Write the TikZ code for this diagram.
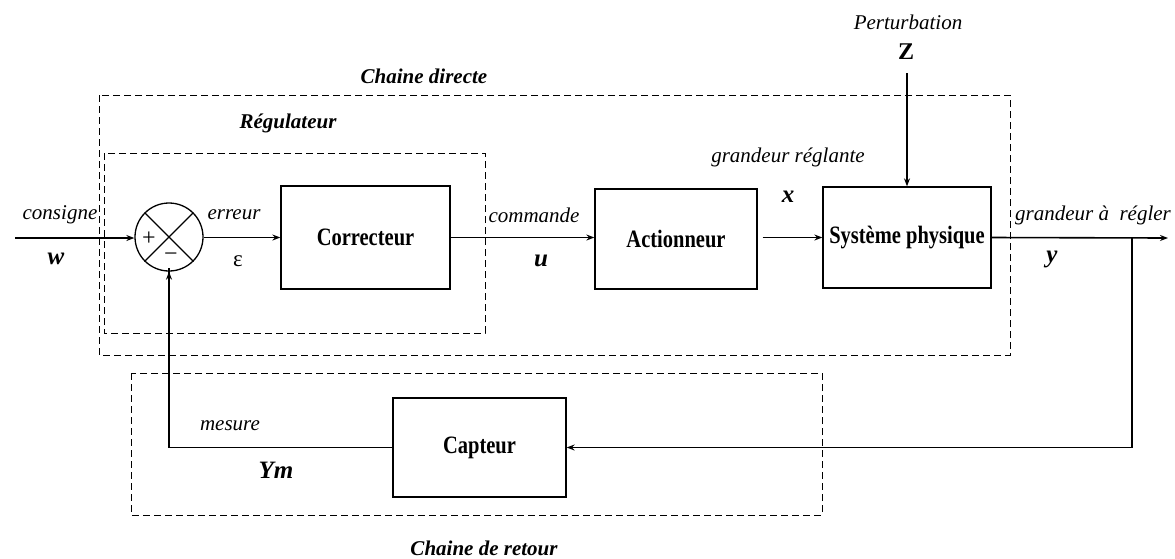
\documentclass[tikz,border=0pt]{standalone}
\usepackage{fontspec}
\setmainfont{Liberation Serif}[Ligatures=TeX]
\newfontfamily\diagfont{Liberation Serif}[Ligatures=TeX]
\newfontfamily\blockfont{Liberation Serif}[Ligatures=TeX,FakeStretch=0.82]
\usetikzlibrary{arrows.meta}
\begin{document}
\begin{tikzpicture}[x=1pt,y=-1pt,
  font=\diagfont,
  blockbox/.style={draw,line width=1.3pt,minimum width=#1,inner sep=0pt,
    font=\blockfont\fontsize{25}{27}\selectfont\bfseries},
  groupbox/.style={draw,line width=1pt,dash pattern=on 7pt off 4pt},
  flow/.style={line width=1.6pt,-{Stealth[length=8pt,width=6pt]}},
  wire/.style={line width=1.3pt},
  lbl/.style={font=\diagfont\fontsize{21}{23}\selectfont\itshape,inner sep=0pt},
  sym/.style={font=\diagfont\fontsize{25}{27}\selectfont\bfseries\itshape,inner sep=0pt},
  title/.style={font=\diagfont\fontsize{21}{23}\selectfont\bfseries\itshape,inner sep=0pt}]
\useasboundingbox (0,0) rectangle (1175,558);

% grouping frames
\draw[groupbox] (99,95) rectangle (1010,355);
\draw[groupbox] (104,153) rectangle (485,333);
\draw[groupbox] (131,373) rectangle (822,515);
\node[title] (tdir) at (424,76) {Chaine directe};
\node[title] (treg) at (288,123) {Régulateur};
\node[title] (tret) at (484,548) {Chaine de retour};

% summing junction
\node[draw,circle,line width=1.3pt,minimum size=68pt,inner sep=0pt] (sum) at (169,237) {};
\draw[line width=1.1pt] (sum.45) -- (sum.225) (sum.135) -- (sum.315);
\node[font=\diagfont\fontsize{24}{26}\selectfont] (plus) at (149,239) {+};
\node[font=\diagfont\fontsize{24}{26}\selectfont] (minus) at (171,257) {\textminus};

% blocks
\node[blockbox=169pt,minimum height=103pt] (cor) at (365.5,237.5) {Correcteur};
\node[blockbox=162pt,minimum height=100pt] (act) at (676,239) {Actionneur};
\node[blockbox=168pt,minimum height=101pt] (sys) at (907,237.5) {Système physique};
\node[blockbox=173pt,minimum height=99pt] (cap) at (479.5,447.5) {Capteur};

% free ends
\coordinate (win) at (15,238);
\coordinate (yout) at (1168,238);
\coordinate (br) at (1132,238);
\coordinate (zin) at (907,73);

% signal flow
\draw[flow] (win) -- (sum.west |- win);
\draw[flow] (sum.east |- cor.west) -- (cor.west);
\draw[flow] (cor.east) -- (cor.east -| act.west);
\draw[flow] ([xshift=5pt]act.east |- sys.west) -- (sys.west);
\draw[flow] (sys.east) -- (yout);
\draw[flow] (zin) -- (sys.north);
\draw[flow] (br) |- (cap.east);
\draw[wire] (cap.west) -| ([yshift=4pt]sum.south);
\draw[flow] (cap.west -| sum.south) -- (sum.south);

% signal labels
\node[lbl] (lcons) at (60,215) {consigne};
\node[sym] (lw) at (56,259) {w};
\node[lbl] (lerr) at (234,215) {erreur};
\node[font=\diagfont\fontsize{23}{25}\selectfont,inner sep=0pt] (leps) at (238,261) {ε};
\node[lbl] (lcom) at (534,215) {commande};
\node[sym] (lu) at (541,261) {u};
\node[lbl] (lgr) at (788,157) {grandeur réglante};
\node[sym] (lx) at (788,197) {x};
\node[lbl] (lpert) at (908,22) {Perturbation};
\node[font=\diagfont\fontsize{24}{26}\selectfont\bfseries,inner sep=0pt] (lz) at (906,52) {Z};
\node[lbl] (lgy) at (1093,215) {grandeur à~~régler};
\node[sym] (ly) at (1052,259) {y};
\node[lbl] (lmes) at (230,426) {mesure};
\node[sym] (lym) at (276,470) {Ym};
\end{tikzpicture}
\end{document}
